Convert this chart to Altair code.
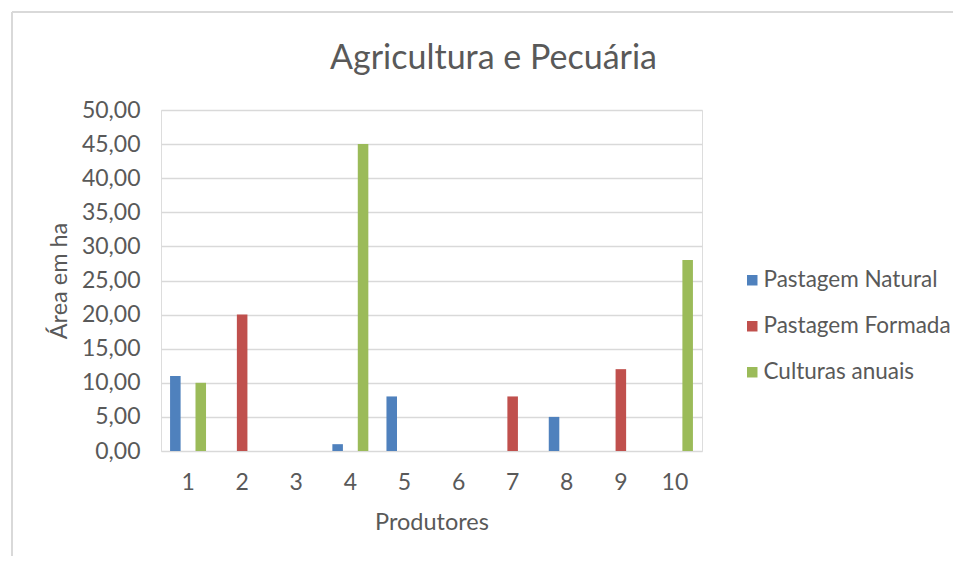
import altair as alt
import pandas as pd

produtores = [str(i) for i in range(1, 11)]
series = ["Pastagem Natural", "Pastagem Formada", "Culturas anuais"]
pastagem_natural = [11, 0, 0, 1, 8, 0, 0, 5, 0, 0]
pastagem_formada = [0, 20, 0, 0, 0, 0, 8, 0, 12, 0]
culturas_anuais = [10, 0, 0, 45, 0, 0, 0, 0, 0, 28]
colors = ["#4F81BD", "#C0504D", "#9BBB59"]
y_ticks = [0, 5, 10, 15, 20, 25, 30, 35, 40, 45, 50]

rows = []
for s, vals in zip(series, [pastagem_natural, pastagem_formada, culturas_anuais]):
    for p, v in zip(produtores, vals):
        rows.append({"Produtor": p, "Série": s, "Valor": v})
df = pd.DataFrame(rows)

FONT = "Lato"
GRAY = "#595959"

bars = alt.Chart(df).mark_bar().encode(
    x=alt.X("Produtor:N", sort=produtores,
            scale=alt.Scale(paddingInner=0.335, paddingOuter=0.1675),
            axis=alt.Axis(title="Produtores", labelAngle=0, ticks=False, domain=False,
                          grid=False, labelPadding=20, titlePadding=16,
                          labelFontSize=23, titleFontSize=23.5,
                          labelColor=GRAY, titleColor=GRAY,
                          labelFont=FONT, titleFont=FONT, titleFontWeight="normal")),
    xOffset=alt.XOffset("Série:N", sort=series, scale=alt.Scale(paddingInner=0.17)),
    y=alt.Y("Valor:Q", scale=alt.Scale(domain=[0, 50]),
            axis=alt.Axis(title="Área em ha", values=y_ticks, ticks=False, domain=False,
                          gridColor="#D9D9D9", gridWidth=1.3,
                          labelExpr="replace(format(datum.value, '.2f'), '.', ',')",
                          labelPadding=21, titlePadding=10,
                          labelFontSize=23, titleFontSize=23.5,
                          labelColor=GRAY, titleColor=GRAY,
                          labelFont=FONT, titleFont=FONT, titleFontWeight="normal")),
    color=alt.Color("Série:N", sort=series,
                    scale=alt.Scale(domain=series, range=colors),
                    legend=alt.Legend(title=None, orient="none", legendX=580, legendY=159,
                                      symbolType="square", symbolSize=110,
                                      symbolStrokeWidth=0, rowPadding=23,
                                      labelFontSize=22.5, labelColor=GRAY, labelFont=FONT,
                                      labelOffset=0, labelLimit=400)),
)

frame_top = alt.Chart(df).mark_rule(color="#D9D9D9", strokeWidth=1.5).encode(
    x=alt.value(-149), x2=alt.value(792), y=alt.value(-98))
frame_left = alt.Chart(df).mark_rule(color="#D9D9D9", strokeWidth=1.5).encode(
    x=alt.value(-149), y=alt.value(-98), y2=alt.value(446))

chart = alt.layer(frame_top, frame_left, bars).properties(
    width=541, height=341,
    title=alt.TitleParams("Agricultura e Pecuária", font=FONT, fontSize=34,
                          fontWeight="normal", color=GRAY, anchor="middle",
                          frame="bounds", offset=-65, dx=11),
    padding={"left": 3, "top": 3, "right": 0, "bottom": 0},
).configure_view(stroke=None).configure(background="white")

chart.save("out.html", embed_options={"renderer": "svg", "actions": False})
